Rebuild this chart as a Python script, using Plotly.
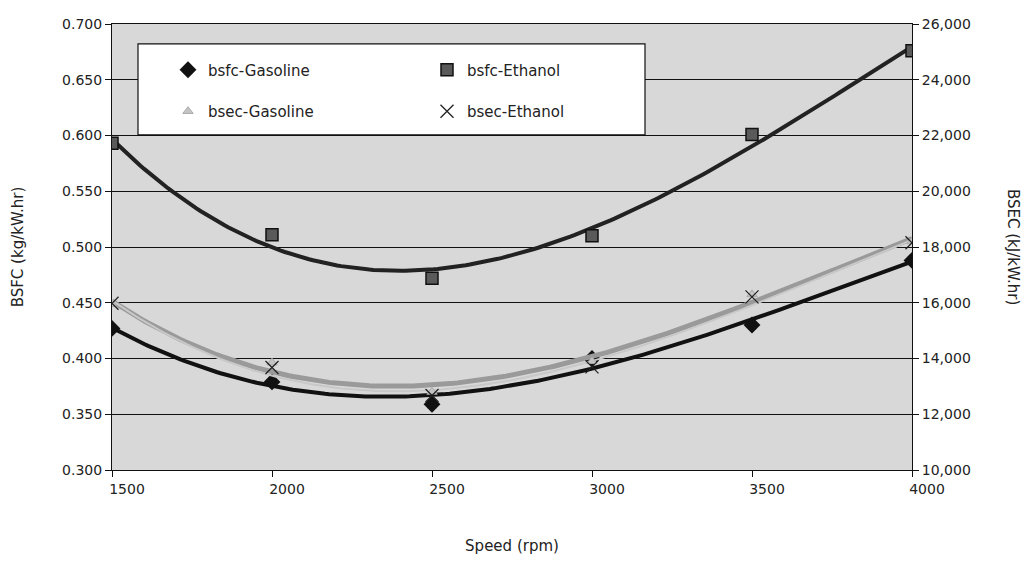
import numpy as np
import plotly.graph_objects as go

speed = [1500, 2000, 2500, 3000, 3500, 4000]
bsfc_gasoline = [0.427, 0.379, 0.359, 0.400, 0.430, 0.488]
bsfc_ethanol = [0.593, 0.511, 0.472, 0.510, 0.601, 0.676]
bsec_gasoline = [15950, 13850, 12800, 13900, 16300, 18200]
bsec_ethanol = [15980, 13680, 12670, 13700, 16210, 18150]

left_ticks = [0.300, 0.350, 0.400, 0.450, 0.500, 0.550, 0.600, 0.650, 0.700]
right_ticks = [10000, 12000, 14000, 16000, 18000, 20000, 22000, 24000, 26000]

xs = np.linspace(1500, 4000, 200)


def trend(y, order=3):
    c = np.polyfit(speed, y, order)
    return np.polyval(c, xs)


FONT = "DejaVu Sans, Verdana, sans-serif"
fig = go.Figure()

# polynomial trendlines, as in the spreadsheet chart
fig.add_trace(go.Scatter(x=xs, y=trend(bsec_gasoline), mode="lines", yaxis="y2",
                         line=dict(color="#9a9a9a", width=5), showlegend=False, hoverinfo="skip"))
fig.add_trace(go.Scatter(x=xs, y=trend(bsec_ethanol), mode="lines", yaxis="y2",
                         line=dict(color="#c8c8c8", width=2), showlegend=False, hoverinfo="skip"))
fig.add_trace(go.Scatter(x=xs, y=trend(bsfc_gasoline), mode="lines",
                         line=dict(color="#111111", width=4), showlegend=False, hoverinfo="skip"))
fig.add_trace(go.Scatter(x=xs, y=trend(bsfc_ethanol), mode="lines",
                         line=dict(color="#222222", width=4), showlegend=False, hoverinfo="skip"))

# markers
fig.add_trace(go.Scatter(x=speed, y=bsfc_gasoline, mode="markers", name="bsfc-Gasoline",
                         marker=dict(symbol="diamond", size=13, color="#111111"), legend="legend"))
fig.add_trace(go.Scatter(x=speed, y=bsfc_ethanol, mode="markers", name="bsfc-Ethanol",
                         marker=dict(symbol="square", size=12, color="#5a5a5a",
                                     line=dict(color="#111111", width=1.5)), legend="legend"))
fig.add_trace(go.Scatter(x=speed, y=bsec_gasoline, mode="markers", name="bsec-Gasoline", yaxis="y2",
                         marker=dict(symbol="triangle-up", size=9, color="#c4c4c4",
                                     line=dict(color="#aaaaaa", width=1)), legend="legend2"))
fig.add_trace(go.Scatter(x=speed, y=bsec_ethanol, mode="markers", name="bsec-Ethanol", yaxis="y2",
                         marker=dict(symbol="x-thin", size=13, color="#222222",
                                     line=dict(color="#222222", width=1.3)), legend="legend2"))

PL, PT, PW, PH = 112, 24, 800, 451
fig.update_layout(
    width=1031, height=563,
    margin=dict(l=PL, r=1031 - PL - PW, t=PT, b=563 - PT - PH),
    paper_bgcolor="white",
    plot_bgcolor="#d8d8d8",
    font=dict(family=FONT, size=14, color="#222222"),
    xaxis=dict(range=[1500, 4000], tickvals=speed, ticks="outside", ticklen=6,
               tickcolor="#111", showline=True, linecolor="#111", linewidth=1, mirror=True,
               showgrid=False, zeroline=False, ticklabelshift=15,
               title=dict(text="Speed (rpm)", font=dict(size=15), standoff=44)),
    yaxis=dict(range=[0.300, 0.700], tickvals=left_ticks, tickformat=".3f", ticks="outside",
               ticklen=6, tickcolor="#111", showline=True, linecolor="#111", linewidth=1,
               showgrid=True, gridcolor="#111111", gridwidth=1, zeroline=False,
               title=dict(text="BSFC (kg/kW.hr)", font=dict(size=15), standoff=34)),
    yaxis2=dict(range=[10000, 26000], tickvals=right_ticks, tickformat=",", overlaying="y",
                side="right", ticks="outside", ticklen=6, tickcolor="#111", showline=True,
                linecolor="#111", linewidth=1, showgrid=False, zeroline=False),
    legend=dict(orientation="h", x=0.07, y=0.897, xanchor="left", yanchor="middle",
                bgcolor="rgba(0,0,0,0)", entrywidth=214, entrywidthmode="pixels",
                font=dict(size=15, color="#222222")),
    legend2=dict(orientation="h", x=0.07, y=0.804, xanchor="left", yanchor="middle",
                 bgcolor="rgba(0,0,0,0)", entrywidth=214, entrywidthmode="pixels",
                 font=dict(size=15, color="#222222")),
    shapes=[dict(type="rect", xref="paper", yref="paper",
                 x0=(138 - PL) / PW, x1=(645 - PL) / PW,
                 y0=(PT + PH - 136) / PH, y1=(PT + PH - 44) / PH,
                 fillcolor="white", line=dict(color="#111", width=1.2), layer="above")],
    annotations=[dict(text="BSEC (kJ/kW.hr)", xref="paper", yref="paper",
                      x=1.0 + (1024 - PL - PW) / PW, y=0.5, showarrow=False, textangle=90,
                      font=dict(size=15, color="#222222"))],
)

fig.write_html(
    "out.html",
    config={"displayModeBar": False},
    post_script=("document.documentElement.style.margin='0';"
                 "document.documentElement.style.overflow='hidden';"
                 "document.body.style.margin='0';"
                 "document.body.style.overflow='hidden';"),
)
